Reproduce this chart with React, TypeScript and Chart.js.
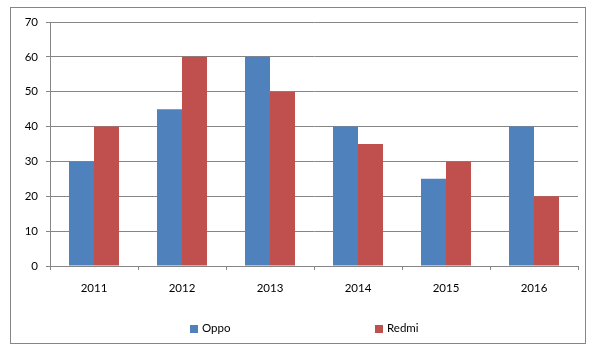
import React, { useEffect, useRef } from "react";
import { Chart, registerables } from "chart.js";

Chart.register(...registerables);

const categories = ["2011", "2012", "2013", "2014", "2015", "2016"];
const oppoValues = [30, 45, 60, 40, 25, 40];
const redmiValues = [40, 60, 50, 35, 30, 20];
const seriesNames = ["Oppo", "Redmi"];
const seriesColors = ["#4F81BD", "#C0504D"];

const FONT = "Lato, 'DejaVu Sans', sans-serif";
const GRAY = "#868686";

const frameAndLegend = {
  id: "frameAndLegend",
  afterDraw(chart: any) {
    const ctx = chart.ctx;
    ctx.save();
    ctx.strokeStyle = GRAY;
    ctx.lineWidth = 1;
    ctx.strokeRect(10.5, 7.5, 575, 336);
    const xs = [190, 375];
    ctx.font = `11.5px ${FONT}`;
    ctx.textBaseline = "alphabetic";
    ctx.textAlign = "left";
    chart.data.datasets.forEach((ds: any, i: number) => {
      ctx.fillStyle = ds.backgroundColor;
      ctx.fillRect(xs[i], 325, 8, 8);
      ctx.fillStyle = "#000";
      ctx.fillText(ds.label, xs[i] + 12, 332);
    });
    ctx.restore();
  },
};

export default function App() {
  const ref = useRef<HTMLCanvasElement | null>(null);
  useEffect(() => {
    if (!ref.current) return;
    const chart = new Chart(ref.current, {
      type: "bar",
      data: {
        labels: categories,
        datasets: [
          { label: seriesNames[0], data: oppoValues, backgroundColor: seriesColors[0] },
          { label: seriesNames[1], data: redmiValues, backgroundColor: seriesColors[1] },
        ],
      },
      options: {
        animation: false,
        responsive: false,
        maintainAspectRatio: false,
        devicePixelRatio: 1,
        layout: { padding: { left: 0, right: 17, top: 22, bottom: 59 } },
        datasets: { bar: { categoryPercentage: 50 / 88, barPercentage: 1 } },
        plugins: { legend: { display: false }, tooltip: { enabled: false } },
        scales: {
          x: {
            grid: { drawOnChartArea: false, drawTicks: true, tickLength: 4, color: GRAY, offset: true },
            border: { display: true, color: GRAY },
            ticks: { color: "#000", font: { family: FONT, size: 11.5 }, padding: 11, maxRotation: 0 },
            afterFit: (s: any) => { s.height = 30; },
          },
          y: {
            min: 0,
            max: 70,
            ticks: { stepSize: 10, color: "#000", font: { family: FONT, size: 11.5 }, padding: 8 },
            grid: { color: GRAY, tickLength: 4 },
            border: { display: true, color: GRAY },
            afterFit: (s: any) => { s.width = 50; },
          },
        },
      },
      plugins: [frameAndLegend],
    });
    return () => chart.destroy();
  }, []);
  return (
    <div style={{ position: "fixed", left: 0, top: 0, width: 595, height: 355, background: "#fff" }}>
      <canvas ref={ref} width={595} height={355} style={{ width: 595, height: 355, display: "block" }} />
    </div>
  );
}
